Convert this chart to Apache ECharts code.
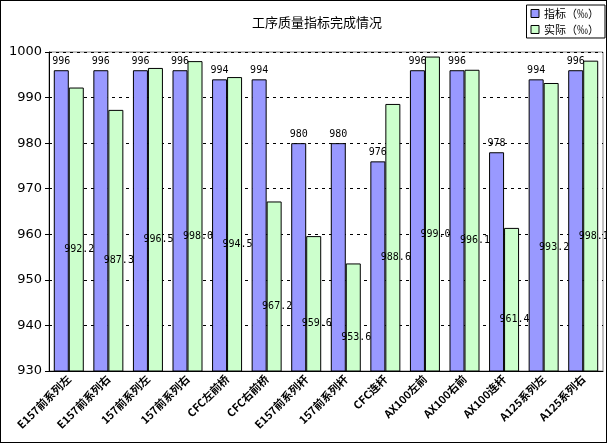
<!DOCTYPE html>
<html>
<head>
<meta charset="utf-8">
<script src="https://cdn.jsdelivr.net/npm/echarts@6/dist/echarts.min.js"></script>
<style>
html, body { margin: 0; padding: 0; background: #fff; }
#main { width: 605px; height: 441px; border: 1px solid #000; }
</style>
</head>
<body>
<div id="main"></div>
<script>
var categories = ['E157前系列左', 'E157前系列右', '157前系列左', '157前系列右', 'CFC左前桥', 'CFC右前桥',
    'E157前系列杆', '157前系列杆', 'CFC连杆', 'AX100左前', 'AX100右前', 'AX100连杆', 'A125系列左', 'A125系列右'];
var targetValues = [996, 996, 996, 996, 994, 994, 980, 980, 976, 996, 996, 978, 994, 996];
var actualValues = [992.2, 987.3, 996.5, 998.0, 994.5, 967.2, 959.6, 953.6, 988.6, 999.0, 996.1, 961.4, 993.2, 998.1];
var yTicks = [930, 1000, 10];

var chart = echarts.init(document.getElementById('main'));

var option = {
    animation: false,
    backgroundColor: '#fff',
    title: {
        text: '工序质量指标完成情况',
        left: 246,
        top: 10,
        textStyle: { fontSize: 13, fontWeight: 'normal', color: '#000', fontFamily: 'Noto Sans CJK SC' }
    },
    legend: {
        orient: 'vertical',
        right: 1,
        top: 4,
        borderColor: '#000',
        borderWidth: 1,
        borderRadius: 0,
        padding: [3, 6, 3, 4],
        itemWidth: 8,
        itemHeight: 8,
        itemGap: 5,
        icon: 'rect',
        itemStyle: { borderColor: '#000', borderWidth: 1 },
        textStyle: { fontSize: 11, color: '#000', fontFamily: 'Noto Sans CJK SC' },
        data: ['指标（‰）', '实际（‰）']
    },
    grid: { left: 48, right: 3, top: 51, bottom: 71, show: true, borderColor: '#888', borderWidth: 1, backgroundColor: '#fff' },
    xAxis: {
        type: 'category',
        data: categories,
        axisLine: { lineStyle: { color: '#000' } },
        axisTick: { show: false },
        axisLabel: {
            interval: 0,
            rotate: 45,
            fontSize: 11,
            fontWeight: 'bold',
            color: '#000',
            margin: 6,
            fontFamily: 'Noto Sans CJK SC'
        }
    },
    yAxis: {
        type: 'value',
        min: yTicks[0],
        max: yTicks[1],
        interval: yTicks[2],
        axisLine: { show: true, lineStyle: { color: '#000' } },
        axisTick: { show: true, length: 4, lineStyle: { color: '#000' } },
        axisLabel: { fontSize: 13, color: '#000', margin: 7, fontFamily: 'DejaVu Sans', formatter: function (v) { return String(v); } },
        splitLine: { lineStyle: { color: '#000', type: [3, 4] } }
    },
    series: [
        {
            name: '指标（‰）',
            type: 'bar',
            data: targetValues,
            barWidth: 15,
            barGap: '0%',
            itemStyle: { color: '#9999ff', borderColor: '#000', borderWidth: 1 },
            label: {
                show: true,
                position: 'top',
                distance: 4,
                fontSize: 10,
                color: '#000',
                fontFamily: 'DejaVu Sans Mono'
            }
        },
        {
            name: '实际（‰）',
            type: 'bar',
            data: actualValues,
            barWidth: 15,
            itemStyle: { color: '#ccffcc', borderColor: '#000', borderWidth: 1 },
            label: {
                show: true,
                position: 'inside',
                offset: [3, 20],
                fontSize: 10,
                color: '#000',
                fontFamily: 'DejaVu Sans Mono',
                formatter: function (p) { return p.value.toFixed(1); }
            }
        }
    ]
};

chart.setOption(option);
</script>
</body>
</html>
